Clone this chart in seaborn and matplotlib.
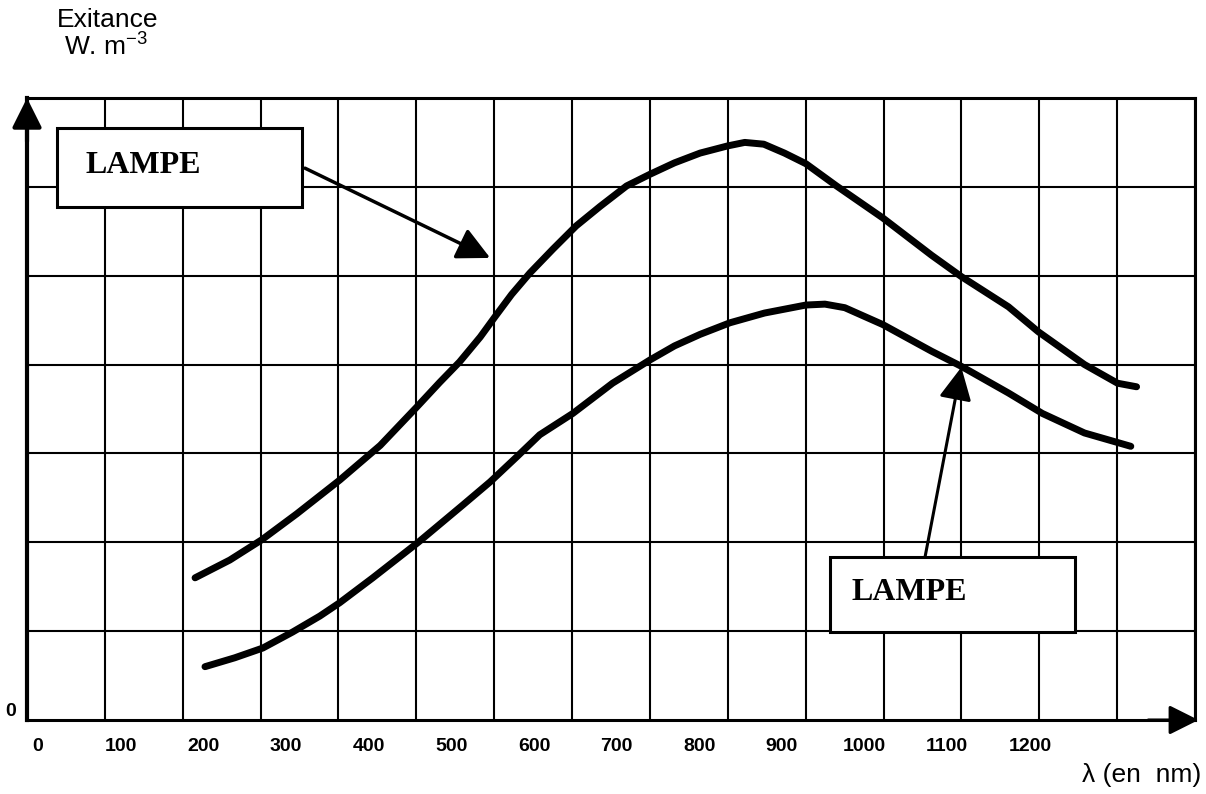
"""
Exitance de deux lampes en fonction de la longueur d'onde
==========================================================
Reproduction d'un schéma scanné : quadrillage, deux courbes,
deux étiquettes « LAMPE » avec flèches.
"""

import numpy as np
import pandas as pd
import matplotlib
matplotlib.use('Agg')
import matplotlib.pyplot as plt
from matplotlib.patches import Rectangle
import seaborn as sns

# ================================================================
# 1. Données (λ en nm, exitance en carreaux)
# ================================================================
lam_haut = [190, 232, 271, 313, 365, 414, 458, 486, 510, 535, 553, 573, 595, 623, 651,
            680, 712, 740, 770, 801, 834, 855, 878, 903, 929, 966, 1022, 1081, 1117,
            1174, 1210, 1266, 1306, 1329]
exit_haut = [1.60, 1.80, 2.03, 2.32, 2.70, 3.09, 3.52, 3.80, 4.03, 4.31, 4.54, 4.79, 5.03,
             5.30, 5.56, 5.78, 6.01, 6.14, 6.27, 6.38, 6.46, 6.50, 6.48, 6.38, 6.26, 6.01,
             5.65, 5.23, 4.99, 4.65, 4.37, 4.00, 3.79, 3.75]

lam_bas = [202, 238, 272, 308, 341, 365, 405, 460, 514, 547, 579, 607, 647, 695, 740,
           770, 801, 837, 879, 929, 952, 976, 1022, 1081, 1117, 1174, 1215, 1266, 1322]
exit_bas = [0.60, 0.70, 0.81, 0.99, 1.17, 1.32, 1.60, 2.00, 2.42, 2.68, 2.96, 3.21, 3.45,
            3.79, 4.05, 4.21, 4.34, 4.47, 4.58, 4.67, 4.68, 4.64, 4.45, 4.15, 3.98, 3.68,
            3.45, 3.23, 3.08]

x_ticks = [0, 100, 200, 300, 400, 500, 600, 700, 800, 900, 1000, 1100, 1200]
x_labels = [str(v) for v in x_ticks]
y_ticks = [0]
y_labels = ['0']

df = pd.concat([
    pd.DataFrame({'lambda': lam_haut, 'exitance': exit_haut, 'courbe': 'haut'}),
    pd.DataFrame({'lambda': lam_bas, 'exitance': exit_bas, 'courbe': 'bas'}),
], ignore_index=True)

# ================================================================
# 2. Style
# ================================================================
sns.set_style('white')
plt.rcParams['font.family'] = ['Liberation Sans', 'DejaVu Sans']
plt.rcParams['mathtext.fontset'] = 'custom'
plt.rcParams['mathtext.rm'] = 'Liberation Sans'
plt.rcParams['mathtext.it'] = 'Liberation Sans'
plt.rcParams['text.color'] = 'black'
plt.rcParams['xtick.color'] = 'black'
plt.rcParams['ytick.color'] = 'black'

fig = plt.figure(figsize=(12.06, 7.94), dpi=100)
ax = fig.add_axes([0.0224, 0.0932, 0.9685, 0.7834])

# quadrillage : 15 colonnes x 7 lignes
x_min, x_max = -13.3, 1399.7
grid_x = np.linspace(x_min, x_max, 16)
ax.set_xlim(x_min, x_max)
ax.set_ylim(0, 7)
ax.set_xticks(grid_x, minor=True)
ax.set_yticks(np.arange(0, 8), minor=True)
ax.grid(which='minor', color='black', lw=1.5)
ax.grid(which='major', visible=False)

ax.set_xticks(x_ticks)
ax.set_xticklabels(x_labels, fontsize=14, fontweight='bold')
ax.set_yticks(y_ticks)
ax.set_yticklabels(y_labels, fontsize=14, fontweight='bold')
ax.tick_params(which='both', length=0)
ax.tick_params(axis='x', pad=13)
ax.tick_params(axis='y', pad=8)
for lab in ax.get_yticklabels():
    lab.set_verticalalignment('bottom')

for side, sp in ax.spines.items():
    sp.set_color('black')
    sp.set_linewidth(2.2)
ax.spines['left'].set_linewidth(3)

# ================================================================
# 3. Courbes
# ================================================================
sns.lineplot(data=df, x='lambda', y='exitance', units='courbe', estimator=None,
             sort=False, color='black', lw=5, ax=ax, legend=False,
             solid_capstyle='round', solid_joinstyle='round', zorder=5)
ax.set_xlabel('')
ax.set_ylabel('')

# flèches des axes
ax.annotate('', xy=(0, 1.0), xytext=(0, 0.93), xycoords='axes fraction',
            arrowprops=dict(arrowstyle='-|>,head_length=0.9,head_width=0.45',
                            color='black', lw=3, shrinkA=0, shrinkB=0, mutation_scale=20),
            annotation_clip=False)
ax.annotate('', xy=(1.003, 0), xytext=(0.96, 0), xycoords='axes fraction',
            arrowprops=dict(arrowstyle='-|>,head_length=0.9,head_width=0.45',
                            color='black', lw=2.2, shrinkA=0, shrinkB=0, mutation_scale=20),
            annotation_clip=False)

# ================================================================
# 4. Étiquettes « LAMPE »
# ================================================================
serif = ['Liberation Serif', 'DejaVu Serif']

ax.add_patch(Rectangle((23, 5.77), 296, 0.89, facecolor='white', edgecolor='black',
                       lw=2.2, zorder=6))
ax.text(57, 6.24, 'LAMPE', family=serif, fontsize=23, fontweight='bold',
        ha='left', va='center', zorder=7)
ax.annotate('', xy=(547, 5.20), xytext=(323, 6.21),
            arrowprops=dict(arrowstyle='-|>,head_length=1.0,head_width=0.5',
                            color='black', lw=2.5, shrinkA=0, shrinkB=0, mutation_scale=20),
            zorder=7)

ax.add_patch(Rectangle((958, 0.99), 296, 0.84, facecolor='white', edgecolor='black',
                       lw=2.2, zorder=6))
ax.text(984, 1.44, 'LAMPE', family=serif, fontsize=23, fontweight='bold',
        ha='left', va='center', zorder=7)
ax.annotate('', xy=(1117, 3.97), xytext=(1073, 1.83),
            arrowprops=dict(arrowstyle='-|>,head_length=1.0,head_width=0.5',
                            color='black', lw=2.2, shrinkA=0, shrinkB=0, mutation_scale=20),
            zorder=7)

# ================================================================
# 5. Titres des axes
# ================================================================
fig.text(108 / 1206, 1 - 20 / 794, 'Exitance', fontsize=19, ha='center', va='center')
fig.text(106 / 1206, 1 - 47 / 794, r'W. m$^{-3}$', fontsize=19, ha='center', va='center')
fig.text(1142 / 1206, 1 - 775 / 794, 'λ (en  nm)', fontsize=19, ha='center', va='center')

plt.savefig('out.png', dpi=100)
plt.close()
